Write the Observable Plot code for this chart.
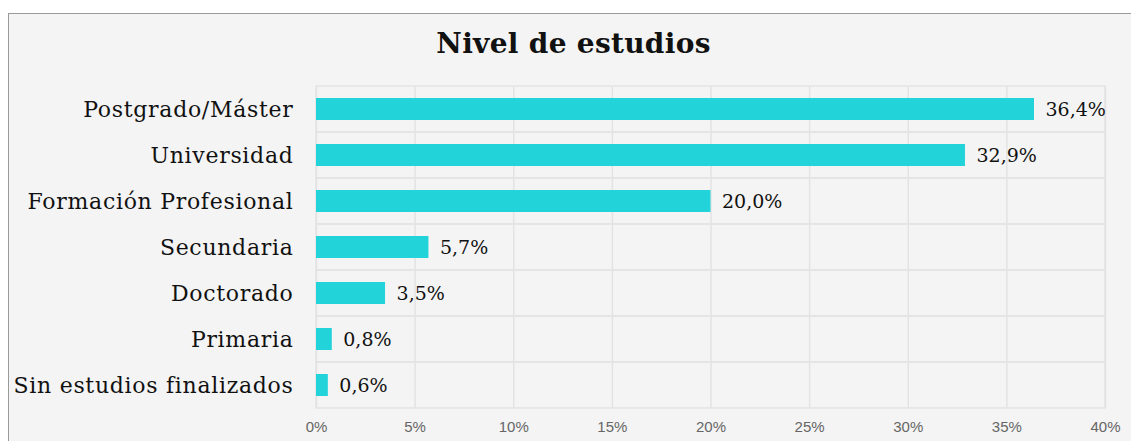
<!DOCTYPE html>
<html>
<head>
<meta charset="utf-8">
<script src="https://cdn.jsdelivr.net/npm/d3@7"></script>
<script src="https://cdn.jsdelivr.net/npm/@observablehq/plot@0.6"></script>
<style>
  html, body { margin: 0; padding: 0; background: #ffffff; width: 1131px; height: 441px; overflow: hidden; }
  #panel { position: absolute; left: 8px; top: 13px; width: 1140px; height: 440px; background: #f4f4f4;
           border-top: 1px solid #9a9a9a; border-left: 1px solid #9a9a9a; }
  #title { position: absolute; left: 0; width: 1147px; top: 27px; text-align: center; letter-spacing: 0.3px;
           font-family: "DejaVu Serif", serif; font-weight: bold; font-size: 28px; color: #111; }
  #chart { position: absolute; left: 0; top: 0; }
  #chart g[aria-label="y-axis tick label"] text { letter-spacing: 0.7px; }
</style>
</head>
<body>
<div id="panel"></div>
<div id="title">Nivel de estudios</div>
<div id="chart"></div>
<script>
const categories = ["Postgrado/Máster", "Universidad", "Formación Profesional", "Secundaria", "Doctorado", "Primaria", "Sin estudios finalizados"];
const values = [36.4, 32.9, 20.0, 5.7, 3.5, 0.8, 0.6];
const xTicks = [0, 5, 10, 15, 20, 25, 30, 35, 40];

const data = categories.map((c, i) => ({category: c, value: values[i]}));
const fmt = v => v.toFixed(1).replace(".", ",") + "%";

const chart = Plot.plot({
  width: 1131,
  height: 441,
  marginLeft: 316,
  marginRight: 26,
  marginTop: 86,
  marginBottom: 33,
  style: { background: "transparent", overflow: "visible" },
  x: { domain: [0, 40], label: null },
  y: { domain: categories, paddingInner: 0.515, paddingOuter: 0.2575, label: null },
  marks: [
    Plot.gridX(xTicks, { stroke: "#e3e3e3", strokeOpacity: 1, strokeWidth: 1.5 }),
    Plot.barX(categories, { x1: 0, x2: 40, y: d => d, fill: "none", stroke: "#e3e3e3", strokeWidth: 1.5, insetTop: -12, insetBottom: -12 }),
    Plot.barX(data, { x: "value", y: "category", fill: "#22d3d9" }),
    Plot.text(data, { x: "value", y: "category", text: d => fmt(d.value), textAnchor: "start", dx: 11,
      fontSize: 19, fontFamily: "DejaVu Serif", fill: "#111" }),
    Plot.axisY({ tickSize: 0, tickPadding: 23, fontSize: 22, fontFamily: "DejaVu Serif", fill: "#111" }),
    Plot.axisX(xTicks, { tickSize: 0, tickPadding: 13, fontSize: 15, fontFamily: "Liberation Sans", fill: "#666",
      tickFormat: d => d + "%", label: null })
  ]
});
document.getElementById("chart").append(chart);
</script>
</body>
</html>
